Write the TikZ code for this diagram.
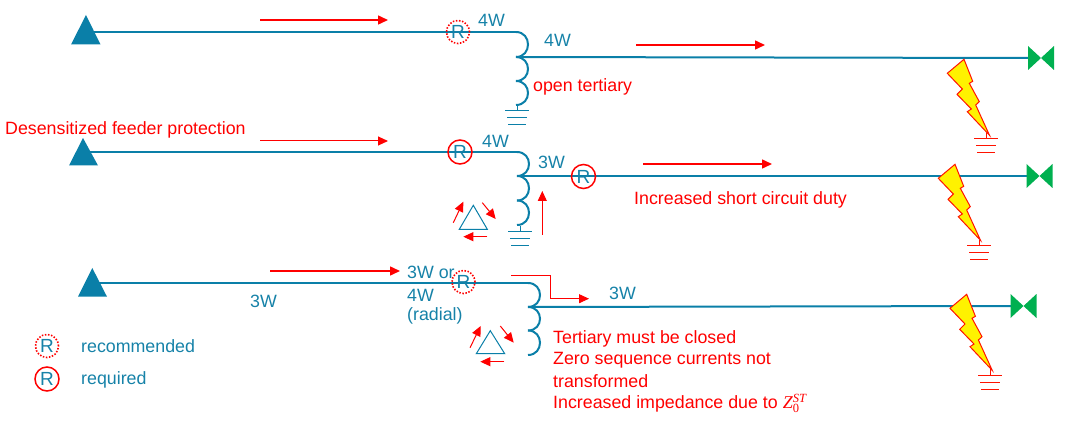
\documentclass[tikz,border=0pt]{standalone}
\usepackage{fontspec}
\setmainfont{Liberation Sans}
\newfontfamily\eqfont{Liberation Serif}
\usetikzlibrary{arrows.meta,calc}
\definecolor{lineblue}{HTML}{0A7FA8}
\definecolor{txtblue}{HTML}{1682A8}
\definecolor{mygreen}{HTML}{00B050}
\newcommand{\eqsmall}[1]{\mbox{\eqfont\fontsize{12.5}{13}\selectfont #1}}
\tikzset{
  x=1pt,y=-1pt,
  wire/.style={draw=lineblue,line width=2pt},
  coilarc/.style={draw=lineblue,line width=2pt,to path={.. controls ($(\tikztostart)+(16,0)$) and ($(\tikztotarget)+(16,0)$) .. (\tikztotarget)}},
  flow/.style={draw=red,line width=1.5pt,-{Triangle[length=10pt,width=9pt]}},
  thinflow/.style={draw=red,line width=1pt,-{Triangle[length=10pt,width=9pt]}},
  redlab/.style={text=red,font=\fontsize{17.8}{20}\selectfont,inner sep=0pt,anchor=west,yshift=-1.5pt},
  bluelab/.style={text=txtblue,font=\fontsize{17.8}{20}\selectfont,inner sep=0pt},
  relayreq/.style={circle,draw=red,line width=1.5pt,minimum size=24pt,inner sep=0pt,text=txtblue,font=\fontsize{19}{20}\selectfont},
  relayrec/.style={circle,draw=red,line width=1.6pt,dash pattern=on 1.5pt off 1.6pt,minimum size=23pt,inner sep=0pt,text=txtblue,font=\fontsize{19}{20}\selectfont},
  source/.style={fill=lineblue},
  deltashape/.style={draw=lineblue,line width=1pt},
  gnd/.pic={
    \draw[pic actions,line width=1pt] (0,-6)--(0,0);
    \draw[pic actions,line width=1pt] (-12,0)--(12,0) (-10,7)--(10,7) (-9,14)--(9,14);
  },
  bolt/.pic={
    \draw[draw=red!85!orange,fill=yellow,line width=1pt,line join=miter]
      (0,0)--(8.7,22)--(5.3,24)--(15.3,42.4)--(11.7,45.7)--(25.5,76)--(3.3,52.4)--(7.3,49.7)
      --(-7,35)--(-1.7,29.7)--(-16.7,14)--cycle;
  },
  bowtie/.pic={
    \fill[mygreen] (-13,-12)--(13,12)--(13,-12)--(-13,12)--cycle;
  },
}
\begin{document}
\begin{tikzpicture}
\useasboundingbox (0,0) rectangle (1074,422);

% ---- row 1
\coordinate (a1) at (92,32);
\coordinate (c1a) at (516,32);
\coordinate (c1b) at (516,57);
\coordinate (c1c) at (516,81);
\coordinate (c1d) at (516,105);
\coordinate (e1) at (1030,58);
\fill[source] (86,15)--(100.5,44.5)--(71,44.5)--cycle;
\draw[wire] (a1)--(c1a);
\draw[coilarc] (c1a) to (c1b);
\draw[coilarc] (c1b) to (c1c);
\draw[coilarc] (c1c) to (c1d);
\draw[wire] (c1b)--(e1);
\pic[draw=lineblue] at (517,111) {gnd};
\node[relayrec] (r1) at (458,32) {R};
\node[bluelab] (t1a) at (491.5,20) {4W};
\node[bluelab] (t1b) at (557.5,40) {4W};
\node[redlab] (t1c) at (533,85) {open tertiary};
\draw[flow] (260,20)--(388,20);
\draw[flow] (636,45)--(765,45);
\pic at (964,59.3) {bolt};
\pic[draw=red!85!orange] at (986,139) {gnd};
\pic at (1041,58) {bowtie};

% ---- row 2
\coordinate (a2) at (90,152);
\coordinate (c2a) at (517,152);
\coordinate (c2b) at (517,176);
\coordinate (c2c) at (517,200.5);
\coordinate (c2d) at (517,225);
\coordinate (e2) at (1028,176);
\fill[source] (83,138)--(98,165.5)--(69,165.5)--cycle;
\draw[wire] (a2)--(c2a);
\draw[coilarc] (c2a) to (c2b);
\draw[coilarc] (c2b) to (c2c);
\draw[coilarc] (c2c) to (c2d);
\draw[wire] (c2b)--(e2);
\pic[draw=lineblue] at (520,232) {gnd};
\node[relayreq] (r2a) at (460,152) {R};
\node[relayreq] (r2b) at (583.5,176.5) {R};
\node[bluelab] (t2a) at (495.5,141) {4W};
\node[bluelab] (t2b) at (551.5,162) {3W};
\node[redlab] (t2c) at (5,128) {Desensitized feeder protection};
\node[redlab] (t2d) at (634,198) {Increased short circuit duty};
\draw[thinflow] (260,141)--(388,141);
\draw[flow] (643,164)--(772,164);
\draw[deltashape] (473.3,205.3)--(487.3,229.3)--(459.3,229.3)--cycle;
\draw[thinflow] (453.3,222.7)--(463.3,201.7);
\draw[thinflow] (482.3,202.7)--(495.7,219);
\draw[thinflow] (487.3,236.7)--(463.3,236.7);
\draw[thinflow] (542.3,235)--(542.3,191);
\pic at (955,164.3) {bolt};
\pic[draw=red!85!orange] at (979,246) {gnd};
\pic at (1039.5,176) {bowtie};

% ---- row 3
\coordinate (a3) at (99,283);
\coordinate (c3a) at (528,283);
\coordinate (c3b) at (528,307);
\coordinate (c3c) at (528,330.5);
\coordinate (c3d) at (528,355);
\coordinate (e3) at (1012,306);
\fill[source] (92.3,268)--(107,296.7)--(78,296.7)--cycle;
\draw[wire] (a3)--(c3a);
\draw[coilarc] (c3a) to (c3b);
\draw[coilarc] (c3b) to (c3c);
\draw[coilarc] (c3c) to (c3d);
\draw[wire] (c3b)--(e3);
\node[relayrec] (r3) at (463.5,282) {R};
\node[bluelab] (t3a) at (263.5,301) {3W};
\node[bluelab,anchor=west] (t3b) at (407,272.5) {3W or};
\node[bluelab,anchor=west] (t3c) at (407,295) {4W};
\node[bluelab,anchor=west] (t3d) at (407,316) {(radial)};
\node[bluelab] (t3e) at (622.5,293) {3W};
\node[redlab] (t3f) at (553,337) {Tertiary must be closed};
\node[redlab] (t3g) at (553,358.5) {Zero sequence currents not};
\node[redlab] (t3h) at (553,380) {transformed};
\node[redlab] (t3i) at (553,402) {Increased impedance due to {\eqfont\itshape\fontsize{18}{20}\selectfont Z}$_{\eqsmall{0}}^{\eqsmall{\itshape ST}}$};
\draw[flow] (270,271)--(400,271);
\draw[thinflow] (511.3,276)--(550.3,276)--(550.3,298.7)--(589,298.7);
\draw[deltashape] (490.3,330.7)--(504.7,353.7)--(476.3,353.7)--cycle;
\draw[thinflow] (470,347.7)--(480.7,326);
\draw[thinflow] (500.3,326)--(513.7,342.7);
\draw[thinflow] (504.3,361.7)--(480.3,361.7);
\pic at (966.7,294.3) {bolt};
\pic[draw=red!85!orange] at (990,375) {gnd};
\pic at (1023.5,306) {bowtie};

% ---- legend
\node[relayrec] (l1) at (47,346) {R};
\node[relayreq] (l2) at (47,379) {R};
\node[bluelab,anchor=west] (l1t) at (81,346) {recommended};
\node[bluelab,anchor=west] (l2t) at (81,380) {required};
\end{tikzpicture}
\end{document}
